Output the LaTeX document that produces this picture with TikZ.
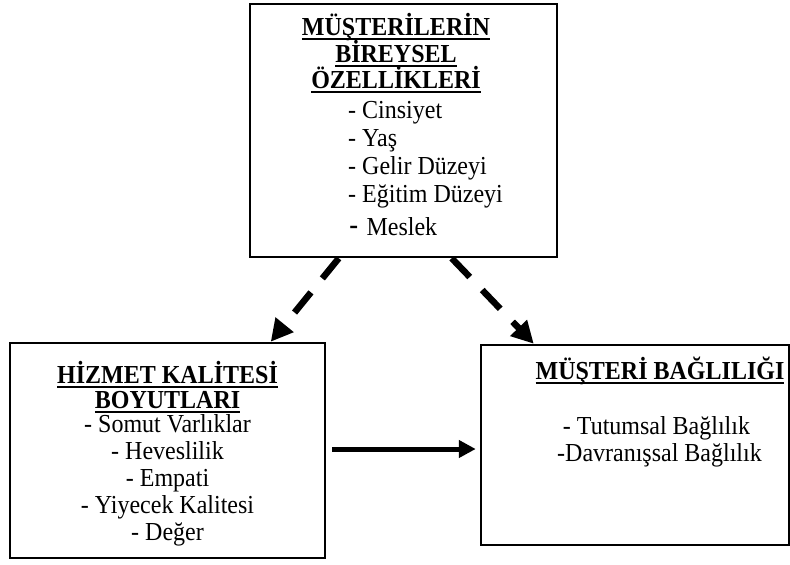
\documentclass[tikz,border=0pt]{standalone}
\usepackage{fontspec}
\usepackage{graphicx}
\setmainfont{Liberation Serif}
\newfontfamily\sansdash{Liberation Sans}
\usetikzlibrary{arrows.meta}
\newcommand\myul[1]{{\setbox0\hbox{#1}\rlap{\vrule height -3pt depth 5pt width \wd0}\box0}}
\newcommand\vst[1]{\scalebox{1}[1.08]{#1}}
\begin{document}
\begin{tikzpicture}[x=1pt,y=-1pt,
  box/.style={draw, line width=2.5pt, inner sep=0pt, fill=white},
  txt/.style={font=\fontsize{24pt}{27.5pt}\selectfont, inner sep=0pt},
  ttl/.style={font=\fontsize{24pt}{27.5pt}\selectfont\bfseries, inner sep=0pt},
  dasharrow/.style={line width=6.5pt, dash pattern=on 26pt off 18pt, -{Triangle[length=22pt,width=22pt]}},
  solidarrow/.style={line width=5pt, -{Triangle[length=17pt,width=17pt]}}]
\useasboundingbox[fill=white] (0,0) rectangle (790,565);
% boxes
\node[box, minimum width=307pt, minimum height=253pt] (top) at (403.5,130.5) {};
\node[box, minimum width=315pt, minimum height=215pt] (left) at (167.5,450.5) {};
\node[box, minimum width=308pt, minimum height=200pt] (right) at (635,445) {};
% top box text
\node[ttl, anchor=base] (t1) at (396,35) {\vst{\myul{MÜŞTERİLERİN}}};
\node[ttl, anchor=base] (t2) at (396,62) {\vst{\myul{BİREYSEL}}};
\node[ttl, anchor=base] (t3) at (396,88) {\vst{\myul{ÖZELLİKLERİ}}};
\node[txt, anchor=base west] (t4) at (348,118) {\vst{- Cinsiyet}};
\node[txt, anchor=base west] (t5) at (348,146) {\vst{- Yaş}};
\node[txt, anchor=base west] (t6) at (348,174) {\vst{- Gelir Düzeyi}};
\node[txt, anchor=base west] (t7) at (348,202) {\vst{- Eğitim Düzeyi}};
\node[txt, anchor=base west] (t8) at (349,235) {\vst{{\sansdash\fontsize{28pt}{28pt}\selectfont -}\hspace{8pt}Meslek}};
% left box text
\node[ttl, anchor=base] (l1) at (167.5,383) {\vst{\myul{HİZMET KALİTESİ}}};
\node[ttl, anchor=base] (l2) at (167.5,408) {\vst{\myul{BOYUTLARI}}};
\node[txt, anchor=base] (l3) at (167.5,432) {\vst{- Somut Varlıklar}};
\node[txt, anchor=base] (l4) at (167.5,459) {\vst{- Heveslilik}};
\node[txt, anchor=base] (l5) at (167.5,486) {\vst{- Empati}};
\node[txt, anchor=base] (l6) at (167.5,513) {\vst{- Yiyecek Kalitesi}};
\node[txt, anchor=base] (l7) at (167.5,540) {\vst{- Değer}};
% right box text
\node[ttl, anchor=base] (r1) at (660,379) {\vst{\myul{MÜŞTERİ BAĞLILIĞI}}};
\node[txt, anchor=base] (r2) at (656.5,434) {\vst{- Tutumsal Bağlılık}};
\node[txt, anchor=base] (r3) at (659.5,461) {\vst{-Davranışsal Bağlılık}};
% arrows
\draw[dasharrow] ([xshift=90pt]top.south west) -- ([xshift=262pt]left.north west);
\draw[dasharrow] ([xshift=203pt]top.south west) -- ([xshift=54pt]right.north west);
\draw[solidarrow] ([xshift=6pt,yshift=1.5pt]left.east) -- ([xshift=-4pt,yshift=-4pt]right.west);
\end{tikzpicture}
\end{document}
